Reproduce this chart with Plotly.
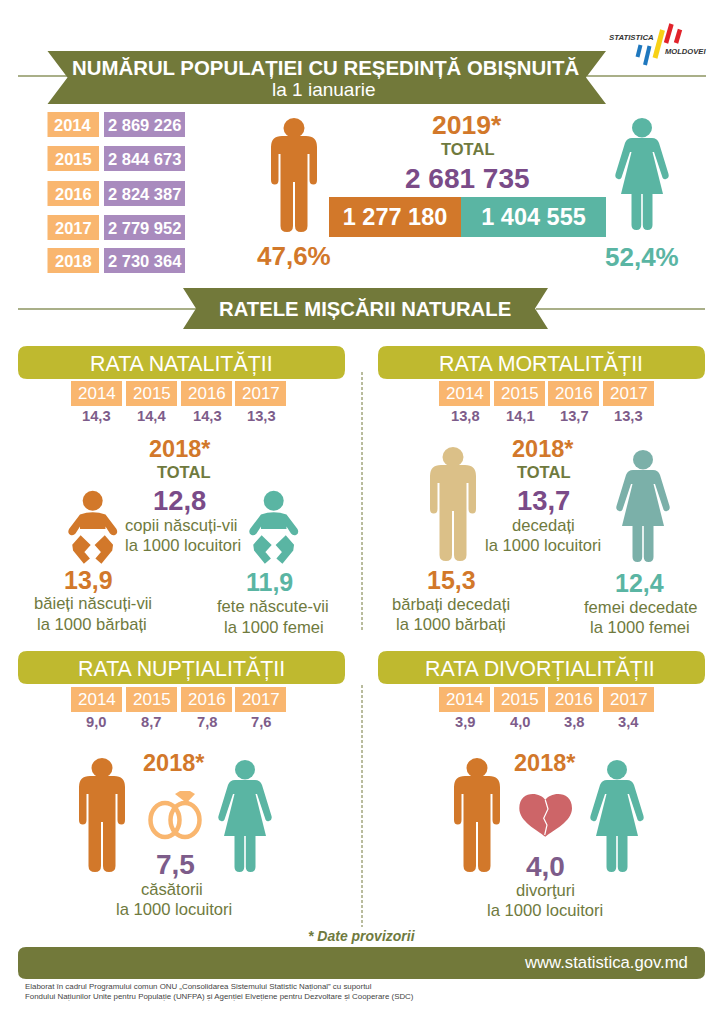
import plotly.graph_objects as go

# data
pop_years = [2014, 2015, 2016, 2017, 2018]
population = [2869226, 2844673, 2824387, 2779952, 2730364]
pop_total = 2681735
pop_men = 1277180
pop_women = 1404555
share_men = 47.6
share_women = 52.4

rate_years = [2014, 2015, 2016, 2017]
birth_rate = [14.3, 14.4, 14.3, 13.3]
death_rate = [13.8, 14.1, 13.7, 13.3]
marriage_rate = [9.0, 8.7, 7.8, 7.6]
divorce_rate = [3.9, 4.0, 3.8, 3.4]

birth_2018 = [12.8, 13.9, 11.9]  # total, boys, girls
death_2018 = [13.7, 15.3, 12.4]  # total, men, women
marriage_2018 = 7.5
divorce_2018 = 4.0

# colours
ORANGE = "#D2782A"
TEAL = "#5AB5A3"
OLIVE = "#72793A"
PILL = "#BFB92F"
TILE = "#F9B66F"
LILAC = "#A98BBE"
PURPLE = "#7A4B88"
PLUM = "#7D5C8A"
TEXT = "#6F7A3E"
FONT = "Liberation Sans, Arial, sans-serif"

W, H = 724, 1024

fig = go.Figure()
shapes = []
notes = []


def num(v):
    return f"{v:,}".replace(",", " ")


def rate(v):
    return f"{v:.1f}".replace(".", ",")


def text(x, y, s, size, color, bold=False, anchor="center"):
    if bold:
        s = f"<b>{s}</b>"
    notes.append(dict(x=x, y=y, text=s, showarrow=False, xanchor=anchor, yanchor="middle",
                      font=dict(size=size, color=color, family=FONT)))


def box(x0, y0, x1, y1, color):
    shapes.append(dict(type="rect", x0=x0, y0=y0, x1=x1, y1=y1, fillcolor=color, line_width=0))


def path(d, color, line=0, line_color=None):
    shapes.append(dict(type="path", path=d, fillcolor=color,
                       line=dict(width=line, color=line_color or color)))


def line(x0, y0, x1, y1, color, width=1.5, dash="solid"):
    shapes.append(dict(type="line", x0=x0, y0=y0, x1=x1, y1=y1, line=dict(color=color, width=width, dash=dash)))


def circle(cx, cy, rx, ry, color, line_w=0, fill=None):
    shapes.append(dict(type="circle", x0=cx - rx, y0=cy - ry, x1=cx + rx, y1=cy + ry,
                       fillcolor=fill if fill is not None else color,
                       line=dict(width=line_w, color=color)))


def scaled(cmds, ox, oy, k=1.0):
    # cmds are (letter, x, y, x, y ...) tuples in icon units
    out = []
    for c in cmds:
        vals = c[1:]
        pts = [f"{ox + vals[i] * k:.2f},{oy + vals[i + 1] * k:.2f}" for i in range(0, len(vals), 2)]
        out.append(c[0] + " " + " ".join(pts))
    return " ".join(out) + " Z"


MAN = [("M", 11, 18), ("L", 35, 18), ("Q", 46, 18, 46, 29), ("L", 46, 62), ("Q", 46, 66.5, 42.5, 66.5),
       ("Q", 38.5, 66.5, 38.5, 62), ("L", 38.5, 36), ("L", 36.5, 36), ("L", 36.5, 108), ("Q", 36.5, 114, 30, 114),
       ("Q", 24, 114, 24, 108), ("L", 24, 64), ("L", 22, 64), ("L", 22, 108), ("Q", 22, 114, 16, 114),
       ("Q", 9.5, 114, 9.5, 108), ("L", 9.5, 36), ("L", 7.5, 36), ("L", 7.5, 62), ("Q", 7.5, 66.5, 3.75, 66.5),
       ("Q", 0, 66.5, 0, 62), ("L", 0, 29), ("Q", 0, 18, 11, 18)]

WOMAN = [("M", 17, 20), ("L", 37, 20), ("Q", 42, 20, 44, 25), ("L", 53.5, 56), ("Q", 54.5, 60, 51, 61),
         ("Q", 48, 62, 47, 58), ("L", 39, 34), ("L", 37.5, 34), ("L", 48, 76), ("L", 37.5, 76), ("L", 37.5, 107),
         ("Q", 37.5, 112, 32.5, 112), ("Q", 27.8, 112, 27.8, 107), ("L", 27.8, 76), ("L", 26.2, 76), ("L", 26.2, 107),
         ("Q", 26.2, 112, 21.5, 112), ("Q", 16.5, 112, 16.5, 107), ("L", 16.5, 76), ("L", 6, 76), ("L", 16.5, 34),
         ("L", 15, 34), ("L", 7, 58), ("Q", 6, 62, 3, 61), ("Q", -0.5, 60, 0.5, 56), ("L", 10, 25),
         ("Q", 12, 20, 17, 20)]

BABY_BODY = [("M", 20, 29.5), ("Q", 32.7, 25, 45.5, 29.5), ("L", 56.5, 44), ("Q", 58.5, 48, 55, 50),
             ("Q", 52, 51, 50, 48.5), ("L", 45.5, 41.5), ("L", 45.5, 44), ("L", 20, 44), ("L", 20, 41.5),
             ("L", 15.5, 48.5), ("Q", 13.5, 51, 10.5, 50), ("Q", 7, 48, 9, 44)]
BABY_LEG_L = [("M", 20.7, 51.7), ("L", 29.3, 60), ("L", 23, 67), ("L", 28.5, 73.5), ("L", 24, 77.3),
              ("L", 14, 65), ("L", 13.3, 60)]
BABY_LEG_R = [("M", 44.7, 51.7), ("L", 36, 60), ("L", 42.3, 67), ("L", 36.8, 73.5), ("L", 41.3, 77.3),
              ("L", 51.3, 65), ("L", 52, 60)]


def man(x, y, color):
    circle(x + 23, y + 10, 10.5, 10, color)
    path(scaled(MAN, x, y), color)


def woman(x, y, color):
    circle(x + 27, y + 9.7, 10, 9.7, color)
    path(scaled(WOMAN, x, y), color)


def baby(x, y, color):
    # x, y is where the icon's own origin lands
    circle(x + 32.7, y + 15.7, 10, 10, color)
    path(scaled(BABY_BODY, x, y), color)
    path(scaled(BABY_LEG_L, x, y), color, 2)
    path(scaled(BABY_LEG_R, x, y), color, 2)


def ribbon(x0, x1, y0, y1, notch):
    ym = (y0 + y1) / 2
    path(f"M {x0},{y0} L {x1},{y0} L {x1 - notch},{ym} L {x1},{y1} L {x0},{y1} L {x0 + notch},{ym} Z", OLIVE)


def pill(x0, x1, y0, y1, color, r=9):
    path(f"M {x0 + r},{y0} L {x1 - r},{y0} Q {x1},{y0} {x1},{y0 + r} L {x1},{y1 - r} Q {x1},{y1} {x1 - r},{y1} "
         f"L {x0 + r},{y1} Q {x0},{y1} {x0},{y1 - r} L {x0},{y0 + r} Q {x0},{y0} {x0 + r},{y0} Z", color)


def panel(left, title, title_x, title_y, tile_xs, tiles_y, values, value_xs):
    pill(left, left + 327, title_y - 17, title_y + 16, PILL)
    text(title_x, title_y, title, 21.4, "white")
    for tx, yr, v, vx in zip(tile_xs, rate_years, values, value_xs):
        box(tx, tiles_y, tx + 51, tiles_y + 25, TILE)
        text(tx + 25.5, tiles_y + 12.5, yr, 17, "white")
        text(vx, tiles_y + 35, rate(v), 14.7, PLUM, bold=True)


# logo
text(631.5, 37.5, "<i>STATISTICA</i>", 7.8, "#333333", True)
text(685, 51, "<i>MOLDOVEI</i>", 7.6, "#333333", True)
line(640.5, 45, 637.5, 57, "#1F78BE", 4)
line(649.5, 46, 645, 65, "#1F78BE", 4)
line(662.5, 30, 655, 58, "#F7D117", 5)
line(671.5, 24, 666, 43, "#E1232B", 4.5)
line(680, 29.5, 676, 43, "#E1232B", 4.5)

# first banner
line(18, 76, 68, 76, "#8D9560")
line(587, 76, 706, 76, "#8D9560")
ribbon(47.5, 606, 51, 104, 20)
text(325, 68, "NUMĂRUL POPULAȚIEI CU REȘEDINȚĂ OBIȘNUITĂ", 20.4, "white", True)
text(324, 89, "la 1 ianuarie", 19, "white")

row_y = [112, 146, 181, 215, 248]
for y, yr, v in zip(row_y, pop_years, population):
    box(47.5, y, 99, y + 25, TILE)
    box(104, y, 185, y + 25, LILAC)
    text(73, y + 12.5, yr, 16.5, "white", True)
    text(144.5, y + 12.5, num(v), 16.5, "white", True)

man(271, 118, ORANGE)
woman(615, 118, TEAL)
text(294, 256, f"{share_men:.1f}%".replace(".", ","), 26, ORANGE, True)
text(642, 257, f"{share_women:.1f}%".replace(".", ","), 26, TEAL, True)
text(467, 125, "2019*", 26.5, ORANGE, True)
text(467, 149, "TOTAL", 16.5, TEXT, True)
text(467, 178, num(pop_total), 28, PURPLE, True)

# split of the total, drawn on its own axes
for val, col in zip([pop_men, pop_women], [ORANGE, TEAL]):
    fig.add_trace(go.Bar(x=[val], y=[0], orientation="h", xaxis="x2", yaxis="y2",
                         marker=dict(color=col, line_width=0), width=1, text=[num(val)],
                         textposition="inside", insidetextanchor="middle", textangle=0,
                         textfont=dict(family=FONT, size=23.5, color="white"),
                         texttemplate="<b>%{text}</b>", hoverinfo="skip", showlegend=False))

# second banner
line(18, 309, 196, 309, "#8D9560")
line(536, 309, 705, 309, "#8D9560")
ribbon(183, 548, 288, 329, 13)
text(365, 309, "RATELE MIȘCĂRII NATURALE", 20.3, "white", True)

# dashed dividers
line(362, 372, 362, 632, OLIVE, 1, "3px,2px")
line(362, 685, 362, 927, OLIVE, 1, "3px,2px")

left_tiles = [71, 126, 181, 235]
right_tiles = [439, 494, 548, 603]
left_vals = [96, 151, 207, 261]
right_vals = [465, 520, 574, 628]

panel(18, "RATA NATALITĂȚII", 181, 363, left_tiles, 381, birth_rate, left_vals)
panel(378, "RATA MORTALITĂȚII", 541, 363, right_tiles, 381, death_rate, right_vals)
panel(18, "RATA NUPȚIALITĂȚII", 181, 668, left_tiles, 687, marriage_rate, left_vals)
panel(378, "RATA DIVORȚIALITĂȚII", 540, 668, right_tiles, 687, divorce_rate, right_vals)

# births
text(180, 449, "2018*", 23.5, ORANGE, True)
text(183, 472, "TOTAL", 16.5, TEXT, True)
text(179, 500, rate(birth_2018[0]), 27.4, PURPLE, True)
text(181, 525, "copii născuți-vii", 16.6, TEXT)
text(183, 545, "la 1000 locuitori", 16.6, TEXT)
baby(60, 485, ORANGE)
baby(241, 485, TEAL)
text(88, 580, rate(birth_2018[1]), 25, ORANGE, True)
text(269, 582, rate(birth_2018[2]), 25, TEAL, True)
text(93, 603, "băieți născuți-vii", 16.6, TEXT)
text(92, 624, "la 1000 bărbați", 16.6, TEXT)
text(273, 606, "fete născute-vii", 16.6, TEXT)
text(274, 627, "la 1000 femei", 16.6, TEXT)

# deaths
text(543, 449, "2018*", 23.5, ORANGE, True)
text(543, 472, "TOTAL", 16.5, TEXT, True)
text(543, 500, rate(death_2018[0]), 27.4, PURPLE, True)
text(543, 525, "decedați", 16.6, TEXT)
text(543, 545, "la 1000 locuitori", 16.6, TEXT)
man(430, 447, "#DBC088")
woman(616, 450, "#7BB0A9")
text(451, 580, rate(death_2018[1]), 25, ORANGE, True)
text(639, 583, rate(death_2018[2]), 25, TEAL, True)
text(451, 604, "bărbați decedați", 16.6, TEXT)
text(451, 624, "la 1000 bărbați", 16.6, TEXT)
text(640, 607, "femei decedate", 16.6, TEXT)
text(640, 627, "la 1000 femei", 16.6, TEXT)

# marriages
man(79, 758, ORANGE)
woman(218, 760, TEAL)
text(174, 763, "2018*", 23.5, ORANGE, True)
circle(165, 820, 14.5, 17, TILE, 4.5, "rgba(0,0,0,0)")
circle(185, 820, 14.5, 17, TILE, 4.5, "rgba(0,0,0,0)")
path("M 175,794 L 180,791 L 190,791 L 195,794 L 186.5,803 Z", TILE)
text(175, 864, rate(marriage_2018), 28, PLUM, True)
text(172, 889, "căsătorii", 16.6, TEXT)
text(174, 909, "la 1000 locuitori", 16.6, TEXT)

# divorces
man(454, 758, ORANGE)
woman(590, 760, TEAL)
text(545, 763, "2018*", 23.5, ORANGE, True)
path("M 545.3,800 C 540.3,791.7 519.3,790 519.3,808.3 C 519.3,821.7 537,830 545.3,836.7 "
     "C 553.7,830 572,821.7 572,808.3 C 572,790 550.3,791.7 545.3,800 Z", "#CD6568")
shapes.append(dict(type="path", path="M 545.3,800 L 548,809 L 543.7,818.3 L 547,825 L 544.7,835",
                   line=dict(color="white", width=1.2)))
text(545, 866, rate(divorce_2018), 28, PLUM, True)
text(545, 890, "divorţuri", 16.6, TEXT)
text(545, 910, "la 1000 locuitori", 16.6, TEXT)

# footer
text(362, 936, "<i>* Date provizorii</i>", 14, TEXT, True)
pill(18, 705, 947, 979, OLIVE, 8)
text(690, 962, "www.statistica.gov.md", 16.7, "white", anchor="right")
text(22.5, 986.5, "Elaborat în cadrul Programului comun ONU „Consolidarea Sistemului Statistic Național” cu suportul", 7.9, "#444444", anchor="left")
text(22.5, 996, "Fondului Națiunilor Unite pentru Populație (UNFPA) și Agenției Elvețiene pentru Dezvoltare și Cooperare (SDC)", 7.9, "#444444", anchor="left")

fig.update_layout(
    width=W,
    height=H,
    margin=dict(l=0, r=0, t=0, b=0),
    paper_bgcolor="white",
    plot_bgcolor="white",
    barmode="stack",
    bargap=0,
    xaxis=dict(range=[0, W], visible=False, domain=[0, 1], fixedrange=True),
    yaxis=dict(range=[H, 0], visible=False, domain=[0, 1], fixedrange=True),
    xaxis2=dict(range=[0, pop_total], visible=False, domain=[329 / W, 606 / W], anchor="y2", fixedrange=True),
    yaxis2=dict(range=[-0.5, 0.5], visible=False, domain=[1 - 237 / H, 1 - 197 / H], anchor="x2", fixedrange=True),
    shapes=shapes,
    annotations=notes,
    showlegend=False,
)
fig.add_trace(go.Scatter(x=[0, W], y=[0, H], mode="markers", marker=dict(opacity=0), hoverinfo="skip", showlegend=False))

fig.write_html("out.html", config=dict(displayModeBar=False), post_script="document.body.style.margin='0';")
